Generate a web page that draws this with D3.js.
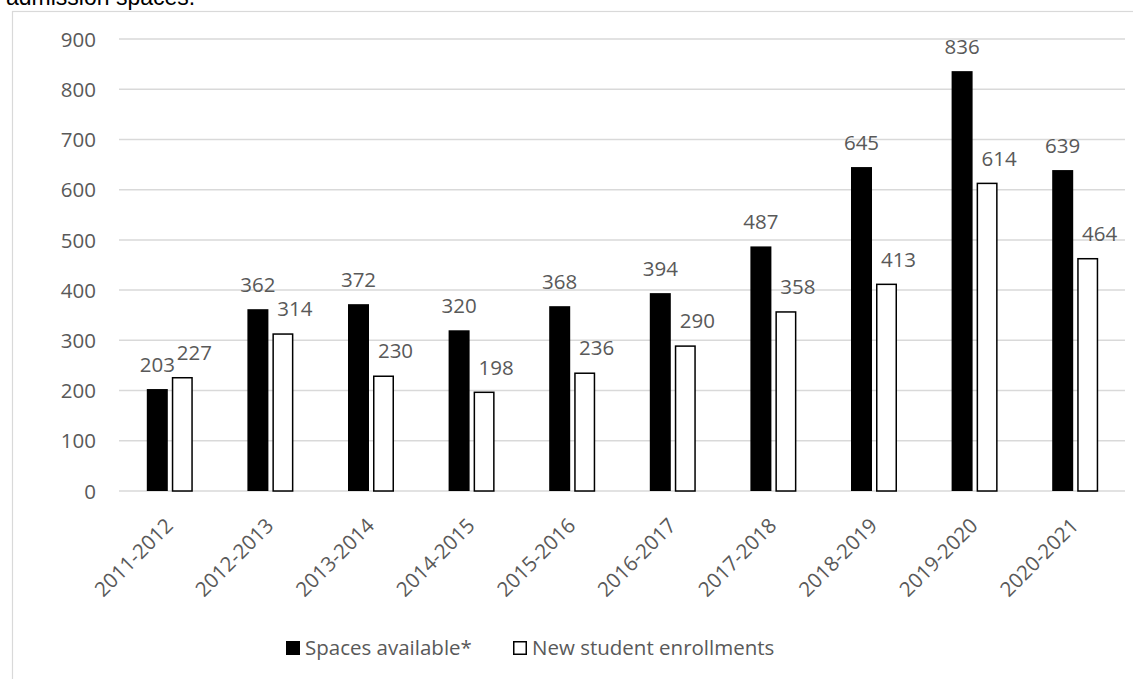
<!DOCTYPE html>
<html><head><meta charset="utf-8">
<script src="https://cdn.jsdelivr.net/npm/d3@7"></script>
<style>body{margin:0;background:#fff}svg{display:block}</style>
</head><body>
<svg id="chart" width="1133" height="679"></svg>
<script>
const categories = ["2011-2012","2012-2013","2013-2014","2014-2015","2015-2016","2016-2017","2017-2018","2018-2019","2019-2020","2020-2021"];
const spacesAvailable = [203,362,372,320,368,394,487,645,836,639];
const newEnrollments = [227,314,230,198,236,290,358,413,614,464];
const yTicks = [0,100,200,300,400,500,600,700,800,900];
const seriesNames = ["Spaces available*","New student enrollments"];

const svg = d3.select("#chart");
const font = "'Open Sans', Carlito, sans-serif";
const txt = "#595959";
const fs = 20.5;

svg.append("text").attr("x",6).attr("y",5).attr("font-family","'Liberation Sans', Arial, sans-serif")
  .attr("font-size",23).attr("fill","#000").text("admission spaces.");

svg.append("rect").attr("x",12.5).attr("y",11.5).attr("width",1140).attr("height",700)
  .attr("fill","none").attr("stroke","#d9d9d9").attr("stroke-width",1.2);

const x0 = 119, x1 = 1125;
const y = d3.scaleLinear().domain([0,900]).range([491,39]);
const x = d3.scaleBand().domain(categories).range([x0,x1]).paddingInner(0).paddingOuter(0);

svg.append("g").selectAll("line").data(yTicks).join("line")
  .attr("x1",x0).attr("x2",x1).attr("y1",d=>y(d)).attr("y2",d=>y(d))
  .attr("stroke","#d9d9d9").attr("stroke-width",1.5);

const yAxis = d3.axisLeft(y).tickValues(yTicks).tickSize(0).tickPadding(0);
const ya = svg.append("g").attr("transform","translate(96,0)").call(yAxis);
ya.select(".domain").remove();
ya.selectAll("text").attr("font-family",font).attr("font-size",fs).attr("fill",txt).attr("dy","0.35em");

const bw = 21, gap = 4;
const sub = d3.scaleOrdinal().domain([0,1]).range([-(bw+gap/2)+0.5, gap/2+0.5]);
const labelShift = [0, 12];
const series = [spacesAvailable, newEnrollments];
const cx = c => x(c)+x.bandwidth()/2;
series.forEach((vals,si)=>{
  const inset = si ? 0.75 : 0;
  svg.append("g").selectAll("rect").data(categories).join("rect")
    .attr("x",c=>cx(c)+sub(si)+inset)
    .attr("y",(c,i)=>y(vals[i])+inset)
    .attr("width",bw-2*inset)
    .attr("height",(c,i)=>y(0)-y(vals[i])-inset)
    .attr("fill",si?"#fff":"#000")
    .attr("stroke",si?"#000":"none").attr("stroke-width",1.5);
  svg.append("g").selectAll("text").data(categories).join("text")
    .attr("x",c=>cx(c)+sub(si)+bw/2+labelShift[si])
    .attr("y",(c,i)=>y(vals[i])-17)
    .attr("text-anchor","middle").attr("font-family",font).attr("font-size",fs).attr("fill",txt)
    .text((c,i)=>vals[i]);
});

const xAxis = d3.axisBottom(x).tickSize(0).tickPadding(0);
const xa = svg.append("g").attr("transform","translate(0,491)").call(xAxis);
xa.select(".domain").remove();
xa.selectAll("text").attr("font-family",font).attr("font-size",fs).attr("fill",txt)
  .attr("text-anchor","end").attr("dy",0).attr("y",0)
  .attr("transform","translate(5,36) rotate(-45)");

const legend = svg.append("g");
const lx = [286, 513];
seriesNames.forEach((n,i)=>{
  legend.append("rect").attr("x",lx[i]+(i?0.75:0)).attr("y",641+(i?0.75:0)).attr("width",i?12.5:14).attr("height",i?12.5:14)
    .attr("fill",i?"#fff":"#000").attr("stroke",i?"#000":"none").attr("stroke-width",1.5);
  legend.append("text").attr("x",lx[i]+19).attr("y",655).attr("font-family",font).attr("font-size",fs)
    .attr("fill",txt).text(n);
});
</script>
</body></html>
